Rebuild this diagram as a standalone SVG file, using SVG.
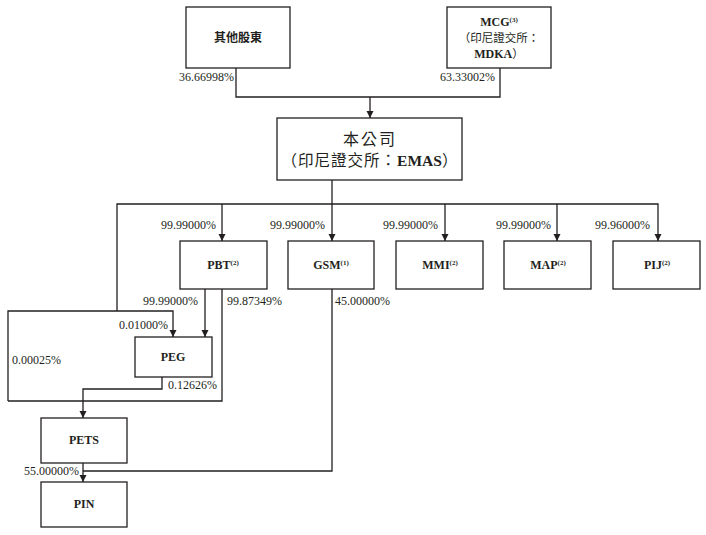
<svg xmlns="http://www.w3.org/2000/svg" width="706" height="535" viewBox="0 0 706 535">
<defs>
<marker id="arr" markerUnits="userSpaceOnUse" markerWidth="8" markerHeight="8" refX="7" refY="3.5" orient="auto">
<path d="M0,0 L7,3.5 L0,7 z" fill="#231f20"/>
</marker>
</defs>
<style>
.box{fill:#fff;stroke:#231f20;stroke-width:1.3}
.ln{fill:none;stroke:#231f20;stroke-width:1.3}
.pct{font-family:"Liberation Serif",serif;font-size:12px;fill:#231f20}
.nm{font-family:"Liberation Serif",serif;font-size:12px;font-weight:bold;fill:#231f20;text-anchor:middle}
.sup{font-size:7px;font-weight:bold}
.cjk{font-family:"Noto Sans CJK TC","Noto Sans CJK SC",sans-serif;fill:#231f20;text-anchor:middle}
.e{text-anchor:end}
</style>
<rect width="706" height="535" fill="#fff"/>
<g id="connectors">
<path class="ln" d="M236 68 V97 H500 V68"/>
<path class="ln" d="M370 97 V118" marker-end="url(#arr)"/>
<path class="ln" d="M332 180 V241" marker-end="url(#arr)"/>
<path class="ln" d="M117 311 V204 H658 V241" marker-end="url(#arr)"/>
<path class="ln" d="M222 204 V241" marker-end="url(#arr)"/>
<path class="ln" d="M445 204 V241" marker-end="url(#arr)"/>
<path class="ln" d="M557 204 V241" marker-end="url(#arr)"/>
<path class="ln" d="M8 401 V311 H173 V337" marker-end="url(#arr)"/>
<path class="ln" d="M205 289 V337" marker-end="url(#arr)"/>
<path class="ln" d="M222 289 V401 H8"/>
<path class="ln" d="M162 377 V389 H83 V418" marker-end="url(#arr)"/>
<path class="ln" d="M83 463 V482" marker-end="url(#arr)"/>
<path class="ln" d="M332 289 V471 H83"/>
</g>
<g id="labels">
<text class="pct e" x="234" y="81">36.66998%</text>
<text class="pct e" x="495" y="81">63.33002%</text>
<text class="pct e" x="216" y="229">99.99000%</text>
<text class="pct e" x="325" y="229">99.99000%</text>
<text class="pct e" x="438" y="229">99.99000%</text>
<text class="pct e" x="551" y="229">99.99000%</text>
<text class="pct e" x="650" y="229">99.96000%</text>
<text class="pct e" x="198" y="305">99.99000%</text>
<text class="pct" x="227" y="305">99.87349%</text>
<text class="pct" x="335" y="305">45.00000%</text>
<text class="pct e" x="168" y="329">0.01000%</text>
<text class="pct" x="12" y="364">0.00025%</text>
<text class="pct" x="168" y="389">0.12626%</text>
<text class="pct e" x="79" y="475">55.00000%</text>
</g>
<g id="others">
<rect class="box" x="186" y="7" width="104" height="61"/>
<text class="cjk" x="238" y="42" font-size="12" font-weight="bold">其他股東</text>
</g>
<g id="mcg">
<rect class="box" x="447" y="7" width="104" height="61"/>
<text class="nm" x="499" y="26">MCG<tspan class="sup" dy="-4">(3)</tspan></text>
<text class="cjk" x="499" y="42" font-size="11.5">（印尼證交所：</text>
<text class="nm" x="499" y="58">MDKA<tspan font-family="Noto Sans CJK TC,sans-serif" font-weight="normal" font-size="11.5">）</tspan></text>
</g>
<g id="company">
<rect class="box" x="277" y="118" width="185" height="62"/>
<text class="cjk" x="370" y="145" font-size="16" letter-spacing="2">本公司</text>
<text class="cjk" x="370" y="166" font-size="15.5" letter-spacing="1">（印尼證交所：<tspan font-family="Liberation Serif,serif" font-weight="bold" letter-spacing="0">EMAS</tspan>）</text>
</g>
<g id="pbt">
<rect class="box" x="180" y="241" width="87" height="48"/>
<text class="nm" x="223" y="269">PBT<tspan class="sup" dy="-4">(2)</tspan></text>
</g>
<g id="gsm">
<rect class="box" x="288" y="241" width="86" height="48"/>
<text class="nm" x="331" y="269">GSM<tspan class="sup" dy="-4">(1)</tspan></text>
</g>
<g id="mmi">
<rect class="box" x="396" y="241" width="87" height="48"/>
<text class="nm" x="440" y="269">MMI<tspan class="sup" dy="-4">(2)</tspan></text>
</g>
<g id="map">
<rect class="box" x="504" y="241" width="87" height="48"/>
<text class="nm" x="548" y="269">MAP<tspan class="sup" dy="-4">(2)</tspan></text>
</g>
<g id="pij">
<rect class="box" x="613" y="241" width="87" height="48"/>
<text class="nm" x="657" y="269">PIJ<tspan class="sup" dy="-4">(2)</tspan></text>
</g>
<g id="peg">
<rect class="box" x="135" y="337" width="77" height="40"/>
<text class="nm" x="173" y="361">PEG</text>
</g>
<g id="pets">
<rect class="box" x="41" y="418" width="86" height="45"/>
<text class="nm" x="84" y="444">PETS</text>
</g>
<g id="pin">
<rect class="box" x="41" y="482" width="86" height="45"/>
<text class="nm" x="84" y="508">PIN</text>
</g>
</svg>
